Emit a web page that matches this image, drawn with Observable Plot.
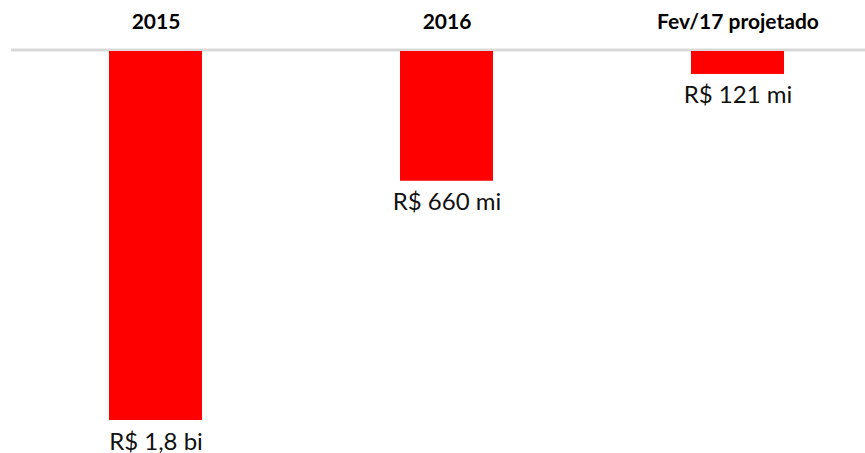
<!DOCTYPE html>
<html>
<head>
<meta charset="utf-8">
<script src="https://cdn.jsdelivr.net/npm/d3@7"></script>
<script src="https://cdn.jsdelivr.net/npm/@observablehq/plot@0.6"></script>
<style>
  html, body { margin: 0; padding: 0; background: #fff; }
  #chart svg { display: block; }
</style>
</head>
<body>
<div id="chart"></div>
<script>
const categories = ["2015", "2016", "Fev/17 projetado"];
const values = [1800, 633, 112];
const valueLabels = ["R$ 1,8 bi", "R$ 660 mi", "R$ 121 mi"];

const data = categories.map((c, i) => ({cat: c, value: values[i], label: valueLabels[i]}));

const chart = Plot.plot({
  width: 865,
  height: 453,
  marginTop: 51,
  marginBottom: 33,
  marginLeft: 11,
  marginRight: 0,
  style: {fontFamily: "Lato, sans-serif", background: "#fff", overflow: "visible"},
  x: {type: "band", domain: categories, range: [9.8, 884], paddingInner: 0.681, paddingOuter: 0.34, axis: null},
  y: {domain: [0, 1800], range: [51, 420], axis: null},
  marks: [
    Plot.ruleY([0], {stroke: "#d9d9d9", strokeWidth: 3, dy: -1.5}),
    Plot.barY(data, {x: "cat", y1: 0, y2: "value", fill: "#ff0000"}),
    Plot.text(data, {x: "cat", y: 0, text: "cat", dy: -23, lineAnchor: "bottom",
      fontSize: 21, fontWeight: "bold", fill: "#000"}),
    Plot.text(data, {x: "cat", y: "value", text: "label", dy: 29, lineAnchor: "bottom",
      fontSize: 24, fill: "#111"})
  ]
});
document.getElementById("chart").appendChild(chart);
</script>
</body>
</html>
